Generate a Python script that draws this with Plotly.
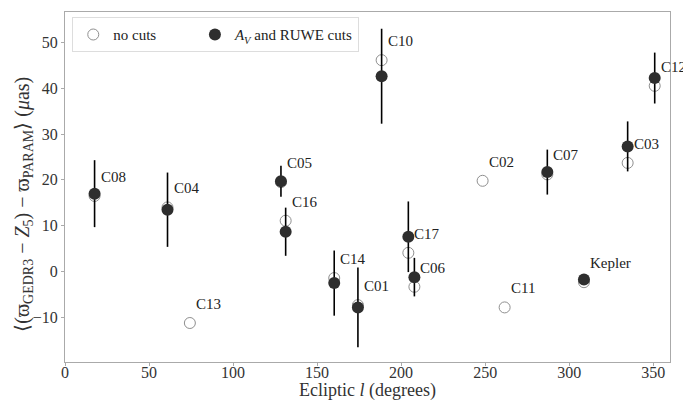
import plotly.graph_objects as go
import numpy as np

campaigns = ["C08", "C04", "C13", "C05", "C16", "C14", "C01", "C10", "C17", "C06",
             "C02", "C11", "C07", "Kepler", "C03", "C12"]
ecl_l = [17.6, 61.0, 74.3, 128.5, 131.3, 160.2, 174.3, 188.4, 204.3, 207.9,
         248.5, 261.6, 287.0, 308.8, 334.8, 350.9]
no_cuts = [16.5, 14.0, -11.2, 19.5, 11.1, -1.4, -7.3, 46.1, 4.1, -3.3,
           19.8, -7.8, 21.2, -2.3, 23.7, 40.5]
cuts = [17.0, 13.5, None, 19.7, 8.7, -2.5, -7.8, 42.6, 7.6, -1.2,
        None, None, 21.7, -1.7, 27.3, 42.2]
cuts_err = [7.3, 8.1, None, 3.4, 5.25, 7.1, 8.7, 10.35, 7.7, 4.2,
            None, None, 4.9, 0.6, 5.45, 5.55]

x_ticks = [0, 50, 100, 150, 200, 250, 300, 350]
y_ticks = [-10, 0, 10, 20, 30, 40, 50]

FONT = "Liberation Serif"
PAD = 8  # page body margin offset

fig = go.Figure()
fig.add_trace(go.Scatter(
    x=ecl_l, y=no_cuts, mode="markers", name="no cuts" + "&nbsp;" * 9,
    marker=dict(symbol="circle-open", size=11, color="#8f8f8f", line=dict(width=1)),
))
fig.add_trace(go.Scatter(
    x=ecl_l, y=cuts, mode="markers", name="<i>A</i><sub><i>V</i></sub> and RUWE cuts",
    marker=dict(symbol="circle", size=12, color="#2e2e2e"),
    error_y=dict(type="data", array=cuts_err, visible=True, color="black",
                 thickness=1.6, width=0),
))

for c, x, y in zip(campaigns, ecl_l, no_cuts):
    fig.add_annotation(x=x, y=y, text=c, showarrow=False, xanchor="left",
                       yanchor="middle", xshift=4, yshift=19,
                       font=dict(family=FONT, size=15, color="#222"))

# axis titles as annotations for precise placement
fig.add_annotation(xref="paper", yref="paper", x=-0.069, y=0.45,
                   text="⟨(ϖ<sub>GEDR3</sub> − <i>Z</i><sub>5</sub>) − ϖ<sub>PARAM</sub>⟩ (<i>μ</i>as)",
                   textangle=-90, showarrow=False, xanchor="center", yanchor="middle",
                   font=dict(family=FONT, size=20, color="#333"))
fig.add_annotation(xref="paper", yref="paper", x=0.5, y=-0.08,
                   text="Ecliptic <i>l</i> (degrees)", showarrow=False,
                   xanchor="center", yanchor="middle",
                   font=dict(family=FONT, size=18, color="#333"))

fig.update_layout(
    width=691 - PAD, height=400 - PAD,
    margin=dict(l=64.5 - PAD, r=21, t=11.5 - PAD, b=38, autoexpand=False),
    paper_bgcolor="white", plot_bgcolor="white",
    font=dict(family=FONT, size=16, color="#333"),
    showlegend=True,
    legend=dict(orientation="h", x=0.012, y=0.985, xanchor="left", yanchor="top",
                bordercolor="#dddddd", borderwidth=1, bgcolor="rgba(255,255,255,0.8)",
                font=dict(family=FONT, size=15, color="#222")),
    xaxis=dict(range=[0, 360], tickvals=x_ticks, showgrid=False, zeroline=False,
               showline=True, linecolor="#aaaaaa", linewidth=1, mirror=True,
               ticks="outside", ticklen=3, tickcolor="#aaaaaa", automargin=False,
               ticklabelstandoff=-7,
               tickfont=dict(family=FONT, size=16, color="#333")),
    yaxis=dict(range=[-19.7, 56.6], tickvals=y_ticks, showgrid=False, zeroline=False,
               showline=True, linecolor="#aaaaaa", linewidth=1, mirror=True,
               ticks="outside", ticklen=3, tickcolor="#aaaaaa", automargin=False,
               tickfont=dict(family=FONT, size=16, color="#333")),
)

fig.write_html("out.html")
